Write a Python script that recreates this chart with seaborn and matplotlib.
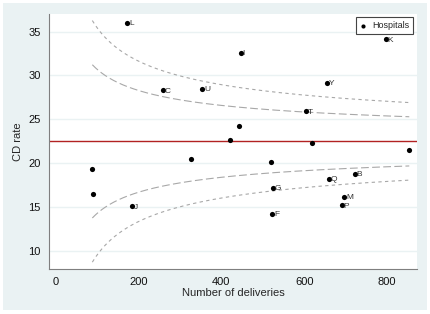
import numpy as np
import pandas as pd
import matplotlib
matplotlib.use("Agg")
import matplotlib.pyplot as plt
from matplotlib.patches import Rectangle
import seaborn as sns

# hospital data
deliveries = [88, 90, 173, 185, 259, 327, 354, 420, 442, 447, 521,
              523, 524, 604, 620, 656, 660, 691, 697, 723, 798, 854]
cd_rate = [19.3, 16.5, 36.0, 15.1, 28.3, 20.5, 28.5, 22.6, 24.2, 32.6, 20.2,
           14.2, 17.2, 25.9, 22.3, 29.2, 18.2, 15.2, 16.2, 18.8, 34.1, 21.5]
hosp_labels = ["", "", "L", "J", "C", "", "U", "", "", "I", "",
               "F", "G", "T", "", "Y", "Q", "P", "M", "B", "K", ""]

target_rate = 22.5      # overall CD rate (%)
z_inner = 1.96          # 95% limits
z_outer = 3.09          # 99.8% limits

df = pd.DataFrame({"deliveries": deliveries, "cd_rate": cd_rate, "label": hosp_labels})

# funnel control limits around the target rate
n = np.linspace(min(deliveries), max(deliveries), 300)
p = target_rate / 100
se = np.sqrt(p * (1 - p) / n) * 100

sns.set_style("white")
plt.rcParams["font.family"] = ["Liberation Sans", "DejaVu Sans"]

fig = plt.figure(figsize=(4.31, 3.14), dpi=100)
fig.patch.set_facecolor("white")
fig.patches.append(Rectangle((3 / 431, 4 / 314), 424 / 431, 307 / 314,
                             transform=fig.transFigure, facecolor="#EAF2F3",
                             edgecolor="none", zorder=-10))
ax = fig.add_axes([49.3 / 431, 1 - 268.7 / 314, 367.4 / 431, 254.7 / 314])
ax.set_zorder(5)
ax.set_facecolor("white")

for z, dash in [(z_outer, (3, 3)), (z_inner, (7, 3))]:
    ax.plot(n, target_rate + z * se, color="#A8A8A8", lw=0.8, dashes=dash, zorder=2)
    ax.plot(n, target_rate - z * se, color="#A8A8A8", lw=0.8, dashes=dash, zorder=2)

ax.axhline(target_rate, color="#B22222", lw=1.0, zorder=2)

sns.scatterplot(data=df, x="deliveries", y="cd_rate", ax=ax, color="black",
                s=14, edgecolor="black", linewidth=0, label="Hospitals", zorder=3)

for _, row in df.iterrows():
    if row["label"]:
        ax.annotate(row["label"], (row["deliveries"], row["cd_rate"]),
                    xytext=(1.2, -0.5), textcoords="offset points",
                    fontsize=6, va="center", ha="left", color="#333333")

ax.set_xlim(-16, 872)
ax.set_ylim(8.0, 37.0)
ax.set_xticks([0, 200, 400, 600, 800])
ax.set_yticks([10, 15, 20, 25, 30, 35])
ax.yaxis.grid(True, color="#EAF2F3", lw=1.0)
ax.set_axisbelow(True)

for side in ["top", "right"]:
    ax.spines[side].set_visible(False)
for side in ["left", "bottom"]:
    ax.spines[side].set_color("#7F7F7F")
    ax.spines[side].set_linewidth(0.8)
ax.tick_params(axis="both", direction="out", length=4, width=0.8,
               color="#7F7F7F", labelsize=8, labelcolor="#111111", pad=2)

ax.set_xlabel("Number of deliveries", fontsize=8, labelpad=1)
ax.set_ylabel("CD rate", fontsize=8, labelpad=4)

leg = ax.legend(loc="upper right", bbox_to_anchor=(0.989, 0.987), fontsize=6.5,
                frameon=True, fancybox=False, framealpha=1, edgecolor="#444444",
                handletextpad=0.5, borderpad=0.4, borderaxespad=0,
                handlelength=0.9, markerscale=0.8)
leg.get_frame().set_linewidth(0.8)

fig.savefig("out.png", dpi=100)
